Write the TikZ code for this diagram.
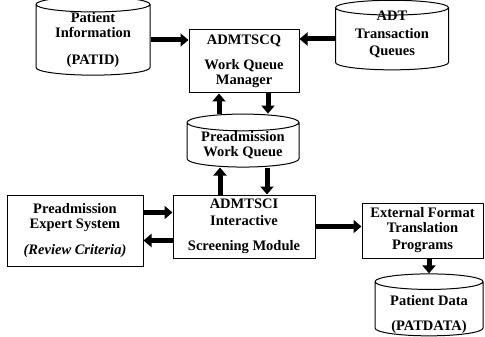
\documentclass[tikz,border=0pt]{standalone}
\usepackage{fontspec}
\setmainfont{Liberation Serif}
\usetikzlibrary{shapes.geometric,arrows.meta}

% move a line of text up or down without changing its size
\newcommand{\nudge}[2]{\raisebox{#1}[\height][\depth]{#2}}

\begin{document}
\begin{tikzpicture}[
		x=1pt,
		y=-1pt,
		every node/.style={
			font=\fontsize{14.5}{15}\selectfont\bfseries,
			align=center,
			inner sep=0pt,
			line width=1pt,
		},
		store/.style={
			draw,
			cylinder,
			shape border rotate=90,
			aspect=0.2,
		},
		module/.style={
			draw,
			rectangle,
		},
		flow/.style={
			line width=5pt,
			-{Triangle[length=8pt,width=13pt]},
		},
	]
		\useasboundingbox (0,0) rectangle (485,337);
		% data stores
		\node[store, minimum width=114pt, minimum height=54pt] (patid) at (93,40)
			{Patient\\Information\\[12pt](PATID)};
		\node[store, minimum width=113pt, minimum height=52pt] (adt) at (392,39)
			{\nudge{5pt}{ADT}\\[3pt]\nudge{5pt}{Transaction}\\[2pt]\nudge{5pt}{Queues}};
		\node[store, minimum width=112pt, minimum height=50pt] (wq) at (243,145)
			{Preadmission\\Work Queue};
		\node[store, minimum width=108pt, minimum height=52pt] (patdata) at (429,309)
			{\nudge{-6pt}{Patient Data}\\[10pt]\nudge{-6pt}{(PATDATA)}};
		% programs
		\node[module, minimum width=110pt, minimum height=63pt] (admtscq) at (244,61.5)
			{ADMTSCQ\\[10pt]Work Queue\\Manager};
		\node[module, minimum width=142pt, minimum height=63pt] (admtsci) at (244,226.5)
			{ADMTSCI\\[2pt]Interactive\\[10pt]Screening Module};
		\node[module, minimum width=136pt, minimum height=71pt] (expert) at (75,230.5)
			{Preadmission\\Expert System\\[11pt]\textit{(Review Criteria)}};
		\node[module, minimum width=121pt, minimum height=55pt] (ext) at (422.5,230.5)
			{External Format\\Translation\\[2pt]Programs};
		% flows
		\draw[flow] (patid.east) -- (patid.east -| admtscq.west);
		\draw[flow] (adt.west) -- (adt.west -| admtscq.east);
		\draw[flow] ([xshift=-24pt]wq.north) -- ([xshift=-24pt]wq.north |- admtscq.south);
		\draw[flow] ([xshift=24pt]admtscq.south) -- ([xshift=24pt]admtscq.south |- wq.north);
		\draw[flow] ([xshift=-24pt]admtsci.north) -- ([xshift=-24pt]admtsci.north |- wq.south);
		\draw[flow] ([xshift=24pt]wq.south) -- ([xshift=24pt]wq.south |- admtsci.north);
		\draw[flow] ([yshift=18pt]expert.east) -- ([yshift=18pt]expert.east -| admtsci.west);
		\draw[flow] ([yshift=-10pt]expert.east -| admtsci.west) -- ([yshift=-10pt]expert.east);
		\draw[flow] (admtsci.east) -- (admtsci.east -| ext.west);
		\draw[flow] (ext.south -| patdata.north) -- (patdata.north);
	\end{tikzpicture}
\end{document}
